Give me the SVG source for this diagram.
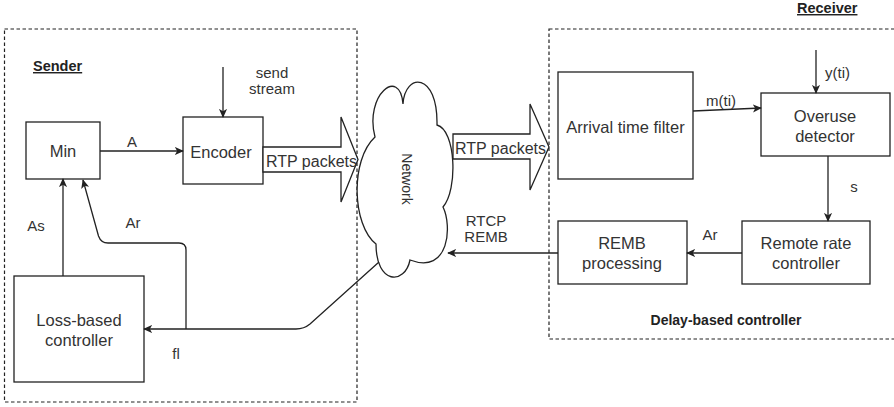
<svg xmlns="http://www.w3.org/2000/svg" width="894" height="407" viewBox="0 0 894 407">
  <style>
    .frame { fill: none; stroke: #222; stroke-width: 1.2; stroke-dasharray: 3.5 2.5; }
    .box { fill: #fff; stroke: #222; stroke-width: 1.3; }
    .edge { fill: none; stroke: #222; stroke-width: 1.3; }
    .lbl { font-family: "Liberation Sans", Arial, sans-serif; font-size: 16.5px; fill: #333; text-anchor: middle; }
    .small { font-family: "Liberation Sans", Arial, sans-serif; font-size: 15px; fill: #333; text-anchor: middle; }
    .start { text-anchor: start; }
    .rtp { font-size: 16px; }
    .title { font-family: "Liberation Sans", Arial, sans-serif; font-size: 14.5px; font-weight: bold; fill: #222; }
  </style>
  <defs>
    <marker id="arrow" viewBox="0 0 10 10" refX="9" refY="5" markerWidth="9" markerHeight="9" markerUnits="userSpaceOnUse" orient="auto">
      <path d="M0,0.5 L10,5 L0,9.5 L2.5,5 Z" fill="#222"/>
    </marker>
  </defs>
  <rect width="894" height="407" fill="#fff"/>

  <!-- dashed grouping frames -->
  <g id="sender-frame">
    <rect class="frame" x="4.5" y="29" width="352.5" height="373"/>
    <text class="title" x="33" y="71" text-decoration="underline">Sender</text>
  </g>
  <g id="receiver-frame">
    <rect class="frame" x="549" y="29" width="360" height="310"/>
    <text class="title" x="797" y="13" text-decoration="underline">Receiver</text>
    <text class="title" x="726" y="325" style="text-anchor: middle; font-size: 14px">Delay-based controller</text>
  </g>

  <!-- network cloud, drawn upright with its long smooth side on the left -->
  <g id="network">
    <path class="box" d="M 375 137 C 364 95, 400 66, 403 104 C 405 72, 438 72, 437 125 C 456 130, 458 190, 443 207 C 452 225, 450 275, 410 260 C 405 285, 376 285, 376 244 C 352 225, 350 160, 375 137 Z"/>
    <text class="small" style="font-size: 14px" transform="translate(407,179) rotate(90)" y="5">Network</text>
  </g>

  <!-- nodes -->
  <g id="min">
    <rect class="box" x="26" y="122" width="74" height="57"/>
    <text class="lbl" x="63" y="156.5">Min</text>
  </g>
  <g id="encoder">
    <rect class="box" x="183" y="117" width="80" height="67"/>
    <text class="lbl" x="221" y="157.5">Encoder</text>
  </g>
  <g id="loss-based-controller">
    <rect class="box" x="14" y="276" width="130" height="106"/>
    <text class="lbl" x="79" y="325.5">Loss-based</text>
    <text class="lbl" x="79" y="345.5">controller</text>
  </g>
  <g id="arrival-time-filter">
    <rect class="box" x="558" y="72" width="135" height="107"/>
    <text class="lbl" x="625.5" y="133">Arrival time filter</text>
  </g>
  <g id="overuse-detector">
    <rect class="box" x="761" y="93" width="129" height="63"/>
    <text class="lbl" x="825" y="121.5">Overuse</text>
    <text class="lbl" x="825" y="141.5">detector</text>
  </g>
  <g id="remote-rate-controller">
    <rect class="box" x="742" y="221" width="128" height="63"/>
    <text class="lbl" x="806" y="248.5">Remote rate</text>
    <text class="lbl" x="806" y="268.5">controller</text>
  </g>
  <g id="remb-processing">
    <rect class="box" x="558" y="221" width="129" height="63"/>
    <text class="lbl" x="622" y="248.5">REMB</text>
    <text class="lbl" x="622" y="268.5">processing</text>
  </g>

  <!-- RTP packet flows (block arrows) -->
  <g id="rtp-out">
    <polygon class="box" points="263,147 341,147 341,117 358,159.5 341,202 341,172 263,172"/>
    <text class="lbl start rtp" x="266" y="166.5">RTP packets</text>
  </g>
  <g id="rtp-in">
    <polygon class="box" points="453,134 530,134 530,104 549,147 530,190 530,159 453,159"/>
    <text class="lbl start rtp" x="455" y="153.5">RTP packets</text>
  </g>

  <!-- connectors -->
  <g id="connectors">
    <line class="edge" x1="100" y1="151" x2="183" y2="151" marker-end="url(#arrow)"/>
    <line class="edge" x1="223" y1="67" x2="223" y2="117" marker-end="url(#arrow)"/>
    <line class="edge" x1="63" y1="276" x2="63" y2="179" marker-end="url(#arrow)"/>
    <path class="edge" d="M 379 262 L 310 324 Q 304 329 296 329 L 144 329" marker-end="url(#arrow)"/>
    <path class="edge" d="M 186 329 L 186 250 Q 186 243 179 243 L 108 243 Q 101 243 98.5 236 L 83 180" marker-end="url(#arrow)"/>
    <line class="edge" x1="693" y1="111" x2="761" y2="108" marker-end="url(#arrow)"/>
    <line class="edge" x1="816" y1="50" x2="816" y2="93" marker-end="url(#arrow)"/>
    <line class="edge" x1="828" y1="156" x2="828" y2="221" marker-end="url(#arrow)"/>
    <line class="edge" x1="742" y1="253" x2="687" y2="253" marker-end="url(#arrow)"/>
    <line class="edge" x1="558" y1="253" x2="448" y2="253" marker-end="url(#arrow)"/>
  </g>

  <!-- connector labels -->
  <g id="edge-labels">
    <text class="small" x="132" y="147">A</text>
    <text class="small" x="272" y="78">send</text>
    <text class="small" x="272" y="94">stream</text>
    <text class="small" x="36" y="231">As</text>
    <text class="small" x="133" y="228">Ar</text>
    <text class="small" x="176" y="359">fl</text>
    <text class="small" x="721" y="106">m(ti)</text>
    <text class="small start" x="825" y="78">y(ti)</text>
    <text class="small" x="854" y="192">s</text>
    <text class="small" x="710" y="240">Ar</text>
    <text class="small" x="486" y="226">RTCP</text>
    <text class="small" x="486" y="242">REMB</text>
  </g>
</svg>
